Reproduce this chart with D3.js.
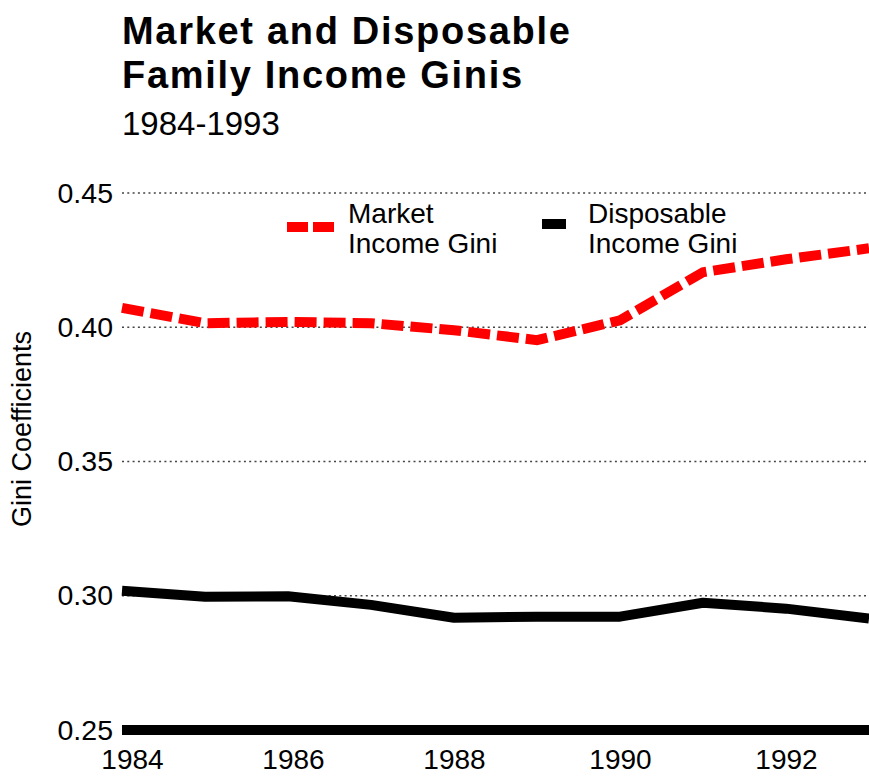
<!DOCTYPE html>
<html>
<head>
<meta charset="utf-8">
<script src="https://cdn.jsdelivr.net/npm/d3@7/dist/d3.min.js"></script>
<style>
  html, body { margin: 0; padding: 0; background: #fff; }
  svg { display: block; font-family: "Liberation Sans", Arial, sans-serif; }
</style>
</head>
<body>
<svg id="chart" width="869" height="776"></svg>
<script>
// Gini coefficients, 1984-1993
const years = [1984, 1985, 1986, 1987, 1988, 1989, 1990, 1991, 1992, 1993];
const marketGini = [0.4072, 0.4015, 0.4020, 0.4015, 0.3989, 0.3952, 0.4026, 0.4205, 0.4253, 0.4294];
const disposableGini = [0.3019, 0.2996, 0.2998, 0.2966, 0.2918, 0.2922, 0.2922, 0.2974, 0.2952, 0.2915];
const yTicks = [0.25, 0.30, 0.35, 0.40, 0.45];
const xTicks = [1984, 1986, 1988, 1990, 1992];

const svg = d3.select("#chart");
const plotLeft = 122, plotRight = 869, plotTop = 193, plotBottom = 730;

const x = d3.scaleLinear().domain([1984, 1993]).range([plotLeft, plotRight]);
const y = d3.scaleLinear().domain([0.25, 0.45]).range([plotBottom, plotTop]);

// Titles
svg.append("text").attr("x", plotLeft).attr("y", 44)
  .attr("font-size", 38).attr("font-weight", "bold").attr("fill", "#000")
  .attr("letter-spacing", 1.7)
  .text("Market and Disposable");
svg.append("text").attr("x", plotLeft).attr("y", 88)
  .attr("font-size", 38).attr("font-weight", "bold").attr("fill", "#000")
  .attr("letter-spacing", 1.7)
  .text("Family Income Ginis");
svg.append("text").attr("x", plotLeft).attr("y", 135)
  .attr("font-size", 33).attr("fill", "#000")
  .text("1984-1993");

// Dotted gridlines
svg.append("g").selectAll("line")
  .data(yTicks.filter(d => d > 0.25))
  .join("line")
  .attr("x1", plotLeft).attr("x2", plotRight)
  .attr("y1", d => y(d)).attr("y2", d => y(d))
  .attr("stroke", "#444").attr("stroke-width", 1.6)
  .attr("stroke-dasharray", "2,3.3");

// Y axis labels
const yAxis = d3.axisLeft(y).tickValues(yTicks).tickFormat(d3.format(".2f")).tickSize(0).tickPadding(9);
const gy = svg.append("g").attr("transform", `translate(${plotLeft},0)`).call(yAxis);
gy.select(".domain").remove();
gy.selectAll("text").attr("font-size", 28.5).attr("fill", "#000")
  .attr("font-family", "Liberation Sans, Arial, sans-serif");

// X axis labels
const xAxis = d3.axisBottom(x).tickValues(xTicks).tickFormat(d3.format("d")).tickSize(0).tickPadding(0);
const gx = svg.append("g").attr("transform", `translate(0,${plotBottom})`).call(xAxis);
gx.select(".domain").remove();
gx.selectAll("text").attr("font-size", 28).attr("fill", "#000")
  .attr("font-family", "Liberation Sans, Arial, sans-serif")
  .attr("dy", null).attr("y", 39)
  .attr("dx", d => d === 1984 ? 10 : (d === 1986 ? 5 : 0));

// Heavy baseline at 0.25
svg.append("line")
  .attr("x1", plotLeft).attr("x2", plotRight)
  .attr("y1", y(0.25)).attr("y2", y(0.25))
  .attr("stroke", "#000").attr("stroke-width", 10);

// Y axis title
svg.append("text")
  .attr("transform", `translate(31,${429}) rotate(-90)`)
  .attr("text-anchor", "middle")
  .attr("font-size", 27).attr("fill", "#000")
  .text("Gini Coefficients");

// Series lines
const line = d3.line().x((d, i) => x(years[i])).y(d => y(d));

svg.append("path").datum(disposableGini)
  .attr("d", line).attr("fill", "none")
  .attr("stroke", "#000").attr("stroke-width", 10)
  .attr("stroke-linejoin", "round");

svg.append("path").datum(marketGini)
  .attr("d", line).attr("fill", "none")
  .attr("stroke", "#ff0000").attr("stroke-width", 10)
  .attr("stroke-dasharray", "22,7");

// Legend
const legend = svg.append("g");
legend.append("line").attr("x1", 287).attr("x2", 334).attr("y1", 227).attr("y2", 227)
  .attr("stroke", "#ff0000").attr("stroke-width", 10).attr("stroke-dasharray", "21,5");
legend.append("text").attr("x", 348).attr("y", 223).attr("font-size", 28).text("Market");
legend.append("text").attr("x", 348).attr("y", 253).attr("font-size", 28).text("Income Gini");

legend.append("line").attr("x1", 542).attr("x2", 566).attr("y1", 224).attr("y2", 224)
  .attr("stroke", "#000").attr("stroke-width", 10);
legend.append("text").attr("x", 588).attr("y", 223).attr("font-size", 28).text("Disposable");
legend.append("text").attr("x", 588).attr("y", 253).attr("font-size", 28).text("Income Gini");
</script>
</body>
</html>
